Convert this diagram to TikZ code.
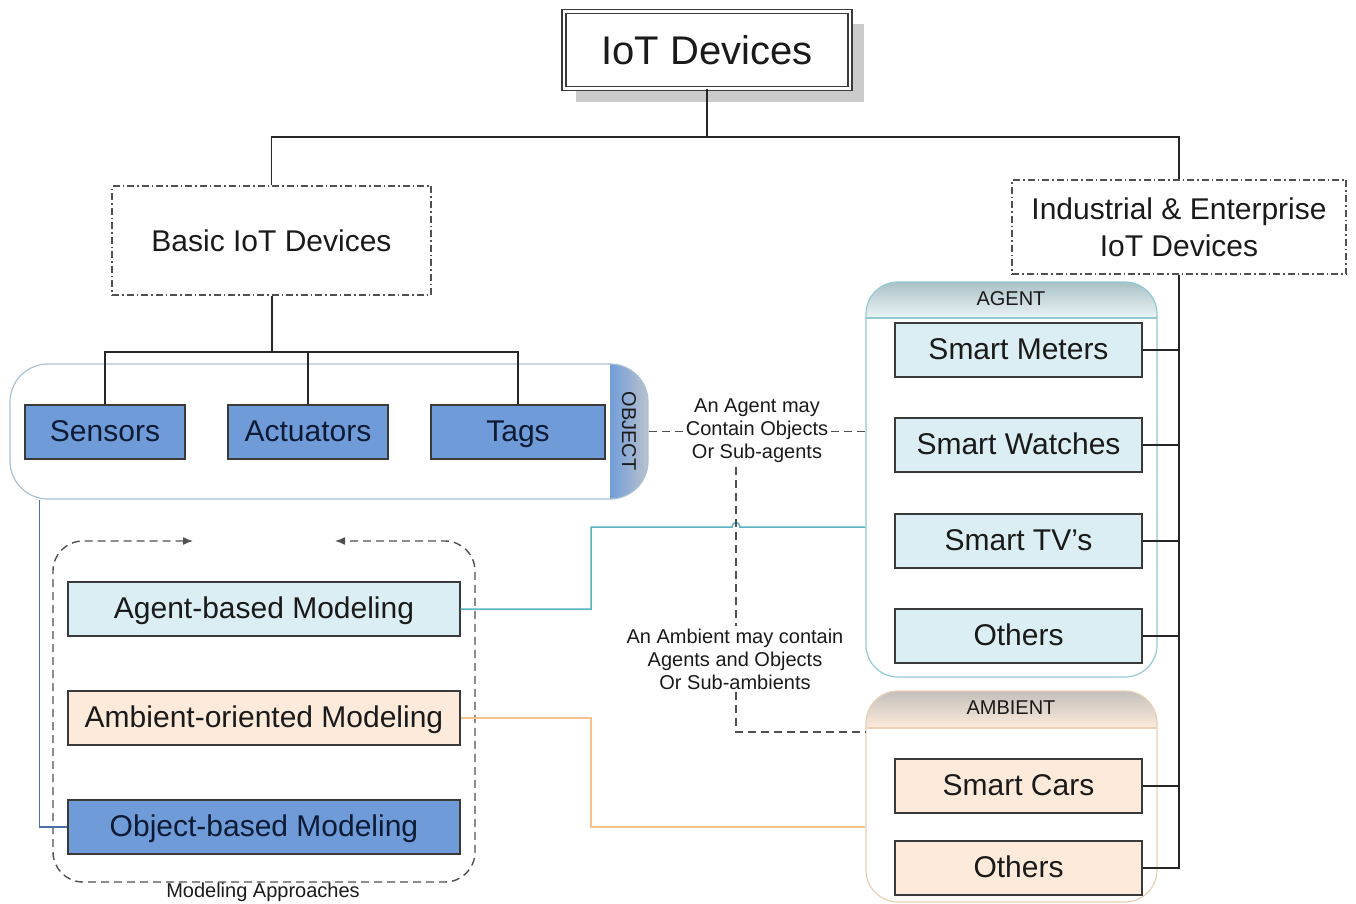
\documentclass[tikz,border=0pt]{standalone}
\usepackage{fontspec}
\setmainfont{Liberation Sans}
\usetikzlibrary{arrows.meta,backgrounds,calc}

\definecolor{boxblue}{HTML}{6F9BD8}
\definecolor{boxlight}{HTML}{DAEEF3}
\definecolor{boxpeach}{HTML}{FDEADA}
\definecolor{edgegray}{HTML}{3A3A3A}
\definecolor{tealline}{HTML}{5AB1BF}
\definecolor{orangeline}{HTML}{F5C18C}
\definecolor{agentedge}{HTML}{92CAD3}
\definecolor{ambientedge}{HTML}{E9CFB5}
\definecolor{objectedge}{HTML}{A9C0D2}
\definecolor{steelline}{HTML}{4A70A8}
\definecolor{shadowgray}{HTML}{CBCBCB}
\definecolor{dashgray}{HTML}{505050}
\definecolor{agenttop}{HTML}{ABC2C7}
\definecolor{agentbot}{HTML}{E9F2F4}
\definecolor{ambienttop}{HTML}{C4C0BC}
\definecolor{ambientbot}{HTML}{FCEADB}
\definecolor{bandleft}{HTML}{729DD9}
\definecolor{bandright}{HTML}{B7C0CD}
\definecolor{inktext}{HTML}{1A1A1A}
\definecolor{navytext}{HTML}{0D1B35}

% vertical colour ramp used for the container headers (arg: top, bottom, height in pt)
\newcommand\headerramp[3]{%
  \foreach \k [evaluate=\k as \p using int(\k*100/17),
               evaluate=\k as \ya using -#3*\k/18,
               evaluate=\k as \yb using -#3*(\k+1)/18-0.4] in {0,...,17}
    \fill[sharp corners, #2!\p!#1]
      ([yshift=\ya pt]path picture bounding box.north west)
      rectangle ([yshift=\yb pt]path picture bounding box.north east);%
}

\begin{document}
\begin{tikzpicture}[x=1pt,y=-1pt,
  font=\fontsize{30}{36}\selectfont, text=inktext,
  item/.style={draw=edgegray, line width=1.2pt, minimum height=54pt, inner sep=0pt,
               text height=21.5pt, text depth=3.5pt},
  bluebox/.style={item, fill=boxblue, text=navytext},
  lightbox/.style={item, fill=boxlight},
  peachbox/.style={item, fill=boxpeach},
  small/.style={font=\fontsize{20}{23}\selectfont},
  dashdot/.style={draw=dashgray, line width=1.1pt, dash pattern=on 7pt off 3pt on 1.5pt off 3pt},
  dashconn/.style={draw=dashgray, line width=1.4pt, dash pattern=on 8pt off 5pt},
  tree/.style={draw=black!85, line width=1.2pt},
  holder/.style={line width=1.2pt, minimum width=291pt, inner sep=0pt},
]
\useasboundingbox (0,0) rectangle (1356,904);

% ---------- top of the hierarchy ----------
\node[draw=edgegray, double=white, double distance=2.6pt, line width=1.3pt,
      fill=white, minimum width=286pt, minimum height=77pt,
      font=\fontsize{40}{48}\selectfont] (iot) at (707,50) {IoT Devices};
\begin{scope}[on background layer]
  \fill[shadowgray] ([xshift=13pt,yshift=-13pt]iot.south west)
                    rectangle ([xshift=13pt,yshift=-13pt]iot.north east);
\end{scope}

\node[dashdot, minimum width=319pt, minimum height=109pt] (basic) at (271.5,240.5) {Basic IoT Devices};
\node[dashdot, minimum width=334pt, minimum height=94pt, align=center,
      font=\fontsize{30}{37}\selectfont] (ind) at (1179,227) {Industrial \& Enterprise\\IoT Devices};

% ---------- containers ----------
\node[draw=objectedge, line width=1.2pt, rounded corners=38pt,
      minimum width=638pt, minimum height=135pt, inner sep=0pt,
      path picture={
        \foreach \k [evaluate=\k as \p using int(\k*100/18),
                     evaluate=\k as \xa using -38+2*\k,
                     evaluate=\k as \xb using -36+2*\k+0.4] in {0,...,18}
          \fill[sharp corners, bandright!\p!bandleft]
            ([xshift=\xa pt]path picture bounding box.north east)
            rectangle ([xshift=\xb pt]path picture bounding box.south east);}]
      (objc) at (329,431.5) {};
\node[small, rotate=-90] (objl) at (629,431) {OBJECT};

\node[holder, draw=agentedge, rounded corners=32pt, minimum height=395pt,
      path picture={\headerramp{agenttop}{agentbot}{36}
        \draw[sharp corners, agentedge, line width=1.2pt]
        ([yshift=-36pt]path picture bounding box.north west) --
        ([yshift=-36pt]path picture bounding box.north east);}]
      (agc) at (1011.5,479.5) {};
\node[small] (agl) at (1011,299) {AGENT};

\node[holder, draw=ambientedge, rounded corners=32pt, minimum height=211pt,
      path picture={\headerramp{ambienttop}{ambientbot}{37}
        \draw[sharp corners, ambientedge, line width=1.2pt]
        ([yshift=-37pt]path picture bounding box.north west) --
        ([yshift=-37pt]path picture bounding box.north east);}]
      (ambc) at (1011.5,796.5) {};
\node[small] (aml) at (1011,708) {AMBIENT};

% Modeling approaches frame, open at the top with two arrows
\draw[dashconn, {Latex[length=10pt,width=8pt]}-{Latex[length=10pt,width=8pt]}, rounded corners=30pt]
  (193,541) -- (53,541) -- (53,882) -- (475,882) -- (475,541) -- (335,541);
\node[small] (mal) at (263,892) {Modeling Approaches};

% ---------- leaf boxes ----------
\node[bluebox, minimum width=160pt] (sens) at (105,432) {Sensors};
\node[bluebox, minimum width=160pt] (act)  at (308,432) {Actuators};
\node[bluebox, minimum width=174pt] (tags) at (518,432) {Tags};

\node[lightbox, minimum width=392pt] (agm) at (264,609) {Agent-based Modeling};
\node[peachbox, minimum width=392pt] (aom) at (264,718) {Ambient-oriented Modeling};
\node[bluebox,  minimum width=392pt] (obm) at (264,827) {Object-based Modeling};

\node[lightbox, minimum width=247pt] (sm)  at (1018.5,350) {Smart Meters};
\node[lightbox, minimum width=247pt] (sw)  at (1018.5,445) {Smart Watches};
\node[lightbox, minimum width=247pt] (stv) at (1018.5,541) {Smart TV’s};
\node[lightbox, minimum width=247pt] (ao)  at (1018.5,636) {Others};
\node[peachbox, minimum width=247pt] (sc)  at (1018.5,786) {Smart Cars};
\node[peachbox, minimum width=247pt] (amo) at (1018.5,868) {Others};

% ---------- tree connectors ----------
\coordinate (tj) at (707,137);
\draw[tree] (iot.south) -- (tj);
\draw[tree] (basic.north) |- (tj) -| (ind.north);

\coordinate (bj) at (271.5,352);
\draw[tree, line width=2pt] (basic.south) -- (bj);
\draw[tree] (sens.north) |- (bj) -| (tags.north);
\draw[tree] (act.north) -- (act.north |- bj);

\draw[tree] (ind.south) |- (amo.east);
\foreach \n in {sm,sw,stv,ao,sc}
  \draw[tree] (\n.east) -- (\n.east -| ind.south);

% ---------- relations between approaches and containers ----------
\draw[steelline, line width=1.5pt] (obm.west) -| ($(objc.south west)+(30,0)$);

\coordinate (tb) at (591,527);
\coordinate (hop) at (736,527);
\draw[tealline, line width=1.5pt] (agm.east) -| (tb) -- ([xshift=-4pt]hop)
  .. controls ([xshift=-4pt,yshift=6pt]hop) and ([xshift=4pt,yshift=6pt]hop) .. ([xshift=4pt]hop)
  -- (hop -| agc.west);

\coordinate (ob) at (591,827);
\draw[orangeline, line width=1.5pt] (aom.east) -| (ob) -- (ob -| ambc.west);

% containment notes
\draw[dashconn] (objc.east) -- (objc.east -| agc.west);
\node[small, align=center, fill=white, inner sep=1pt] (lab1) at (757,431)
  {An Agent may\\Contain Objects\\Or Sub-agents};
\node[small, align=center, inner sep=2pt] (lab2) at (735,659)
  {An Ambient may contain\\Agents and Objects\\Or Sub-ambients};
\coordinate (dj) at (736,732);
\draw[dashconn] ([yshift=-3pt]lab1.south -| hop) -- (lab2.north -| hop);
\draw[dashconn] (lab2.south -| dj) -- (dj) -- (dj -| ambc.west);
\end{tikzpicture}
\end{document}
